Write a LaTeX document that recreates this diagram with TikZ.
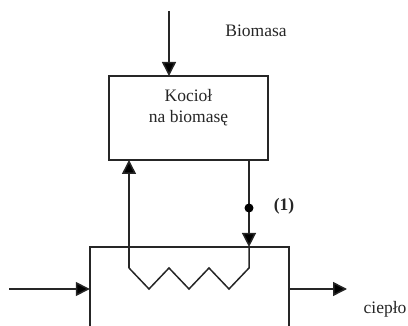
\documentclass[tikz,border=0pt]{standalone}
\usepackage{fontspec}
\setmainfont{Liberation Serif}
\usetikzlibrary{arrows.meta}
\tikzset{
  x=1pt,y=-1pt,
  line/.style={line width=1.5pt,color=black!85},
  heavy/.style={line width=1.8pt,color=black!85},
  flow/.style={line,-{Triangle[length=14pt,width=14pt,fill=black]}},
  lab/.style={font=\fontsize{17.5}{21}\selectfont,inner sep=0pt,text=black!85,align=center},
  pt/.style={circle,fill=black,inner sep=0pt,minimum size=9pt},
}
\begin{document}
\begin{tikzpicture}
\useasboundingbox (0,0) rectangle (408,326);
% boiler
\node[heavy,draw,fill=white,minimum width=159pt,minimum height=84pt,inner sep=0pt] (boiler) at (188.5,118) {};
\node[lab] (boilertext) at (188.5,108) {Kocioł\\na biomasę};
% exchanger (open at the bottom)
\coordinate (hxbl) at (89.8,326);
\coordinate (hxtl) at (89.8,246.9);
\coordinate (hxtr) at (288.8,246.9);
\coordinate (hxbr) at (288.8,326);
\draw[heavy] (hxbl) -- (hxtl) -- (hxtr) -- (hxbr);
% biomass feed
\coordinate (feed) at (169,11);
\coordinate (feedend) at (169,76);
\draw[flow] (feed) -- (feedend);
\node[lab] (biomasa) at (256,31) {Biomasa};
% coil
\coordinate (c0) at (129,268);
\coordinate (c6) at (249,268);
\coordinate (ret) at (129,160);
\coordinate (sup) at (249,160);
\coordinate (hxin) at (249,246.9);
\draw[flow] (c0) -- (ret);
\draw[line] (c0) -- (149,289) -- (169,268) -- (189,289) -- (209,268) -- (229,289) -- (c6) -- (hxin);
\draw[flow] (sup) -- (hxin);
\node[pt] (dot) at (249,208) {};
\node[lab,font=\fontsize{17.5}{21}\selectfont\bfseries] (one) at (284,206) {(1)};
% side streams
\coordinate (inl) at (9,289);
\coordinate (inr) at (89.8,289);
\coordinate (outl) at (288.8,289);
\coordinate (outr) at (347,289);
\draw[flow] (inl) -- (inr);
\draw[flow] (outl) -- (outr);
\node[lab] (cieplo) at (385,309.5) {ciepło};
\end{tikzpicture}
\end{document}
